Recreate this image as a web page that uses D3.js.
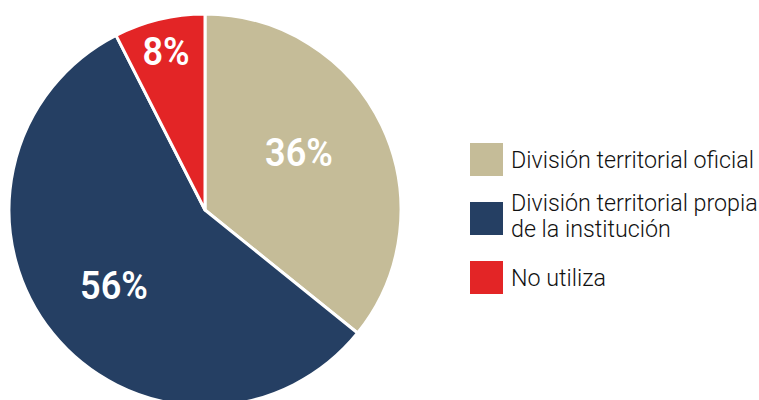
<!DOCTYPE html>
<html><head><meta charset="utf-8">
<script src="https://cdn.jsdelivr.net/npm/d3@7"></script>
<style>body{margin:0;background:#fff}svg{display:block}</style>
</head><body>
<svg id="c" width="759" height="400"></svg>
<script>
const categories = ["División territorial oficial", "División territorial propia de la institución", "No utiliza"];
const legendLines = [["División territorial oficial"], ["División territorial propia", "de la institución"], ["No utiliza"]];
const values = [35.8, 56.7, 7.5];
const labels = ["36%", "56%", "8%"];
const colors = ["#c5bc98", "#253f63", "#e32526"];

const svg = d3.select("#c");
const cx = 205, cy = 210, r = 196;
const pie = d3.pie().sort(null).value(d => d)(values);
const arc = d3.arc().innerRadius(0).outerRadius(r);
const g = svg.append("g").attr("transform", `translate(${cx},${cy})`);
g.selectAll("path").data(pie).join("path")
  .attr("d", arc).attr("fill", (d,i) => colors[i])
  .attr("stroke", "#fff").attr("stroke-width", 3).attr("stroke-linejoin", "round");

const labelPos = [[94, -57], [-91, 76], [-39, -158]];
g.selectAll("text.lbl").data(pie).join("text")
  .attr("class", "lbl")
  .attr("transform", (d,i) => `translate(${labelPos[i][0]},${labelPos[i][1]}) scale(0.95,1)`)
  .attr("text-anchor", "middle").attr("dy", "0.35em")
  .attr("font-family", "Roboto, sans-serif").attr("font-weight", 600)
  .attr("font-size", 38).attr("fill", "#fff")
  .text((d,i) => labels[i]);

const legY = [143, 202, 261];
const leg = svg.append("g");
categories.forEach((c, i) => {
  leg.append("rect").attr("x", 470).attr("y", legY[i]).attr("width", 33).attr("height", 33).attr("fill", colors[i]);
  legendLines[i].forEach((l, j) => {
    leg.append("text")
      .attr("transform", `translate(511,${legY[i] + (legendLines[i].length > 1 ? 9 : 25) + j * 26}) scale(0.97,1)`)
      .attr("font-family", "Roboto, sans-serif").attr("font-weight", 300)
      .attr("font-size", 24).attr("fill", "#111")
      .text(l);
  });
});
</script>
</body></html>
